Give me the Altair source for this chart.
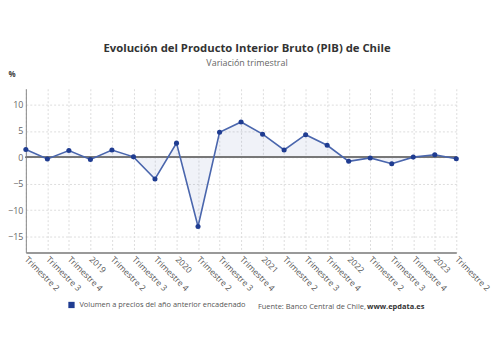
import json
import altair as alt
import pandas as pd

labels = ["Trimestre 2", "Trimestre 3", "Trimestre 4", "2019", "Trimestre 2", "Trimestre 3",
          "Trimestre 4", "2020", "Trimestre 2", "Trimestre 3", "Trimestre 4", "2021",
          "Trimestre 2", "Trimestre 3", "Trimestre 4", "2022", "Trimestre 2", "Trimestre 3",
          "Trimestre 4", "2023", "Trimestre 2"]
values = [1.5, -0.3, 1.3, -0.4, 1.4, 0.1, -4.1, 2.7, -13.1, 4.75, 6.7,
          4.4, 1.4, 4.3, 2.3, -0.75, -0.1, -1.2, 0.05, 0.5, -0.25]
series_name = "Volumen a precios del año anterior encadenado"
y_ticks = [-15, -10, -5, 0, 5, 10]
source_text = "Fuente: Banco Central de Chile,"
source_url = "www.epdata.es"

df = pd.DataFrame({"i": list(range(len(values))), "v": values, "serie": series_name})
one = pd.DataFrame({"a": [0]})

FONT = "Open Sans"
label_expr = json.dumps(labels) + "[datum.value]"

x_scale = alt.Scale(domain=[0, len(values) - 1], nice=False, zero=False)
x_axis = alt.Axis(values=list(range(len(values))), labelExpr=label_expr, title=None,
                  labelAngle=45, labelAlign="left", labelBaseline="middle",
                  labelOverlap=False, labelFlush=False, labelPadding=5,
                  labelFontSize=8.5, labelColor="#555", labelFont=FONT,
                  ticks=False, domainColor="#999", domainWidth=2,
                  grid=True, gridColor="#ddd", gridDash=[2, 2])
y_scale = alt.Scale(domain=[-18, 13], nice=False)
y_axis = alt.Axis(values=y_ticks, title="%", titleAngle=0, titleAlign="left",
                  titleX=-18, titleY=-10, titleFontSize=8, titleColor="#444",
                  titleFont=FONT, titleFontWeight="bold", labelOverlap=False,
                  labelFontSize=9, labelColor="#666", labelFont=FONT,
                  labelPadding=3, ticks=False, domainColor="#888",
                  grid=True, gridColor="#ddd", gridDash=[2, 2])

x = alt.X("i:Q", scale=x_scale, axis=x_axis)
y = alt.Y("v:Q", scale=y_scale, axis=y_axis)

base = alt.Chart(df)
area = base.mark_area(color="#3a5aa8", opacity=0.08).encode(x=x, y=y, y2=alt.datum(0))
zero_rule = base.mark_rule(color="#777", strokeWidth=1.2).encode(
    y=alt.Y(datum=0, scale=y_scale, axis=y_axis))
line = base.mark_line(color="#4a66ad", strokeWidth=1.6).encode(x=x, y=y)
points = base.mark_point(filled=True, size=26, opacity=1).encode(
    x=x, y=y,
    color=alt.Color("serie:N", scale=alt.Scale(range=["#1f3c91"]),
                    legend=alt.Legend(title=None, orient="none", legendX=42, legendY=214,
                                      symbolType="square", symbolSize=40, labelLimit=0,
                                      labelFontSize=7.5, labelColor="#555", labelFont=FONT)))
tb = alt.Chart(one)
src1 = tb.mark_text(align="left", baseline="middle", fontSize=7.5, color="#555", font=FONT).encode(
    x=alt.value(234), y=alt.value(220), text=alt.value(source_text))
src2 = tb.mark_text(align="left", baseline="middle", fontSize=7.5, color="#333", font=FONT,
                    fontWeight="bold").encode(
    x=alt.value(344), y=alt.value(220), text=alt.value(source_url))

chart = alt.layer(area, zero_rule, line, points, src1, src2).properties(
    width=434, height=165,
    autosize=alt.AutoSizeParams(type="none"),
    padding={"left": 18, "top": 80, "right": 36, "bottom": 100},
    title=alt.TitleParams(text="Evolución del Producto Interior Bruto (PIB) de Chile",
                          subtitle="Variación trimestral", anchor="middle", dx=6, offset=3,
                          font=FONT, fontSize=11.4, fontWeight="bold", color="#333",
                          subtitleFont=FONT, subtitleFontSize=9, subtitleColor="#666",
                          subtitlePadding=5),
).configure_view(stroke=None)

chart.save("out.html", embed_options={"renderer": "svg", "actions": False})
